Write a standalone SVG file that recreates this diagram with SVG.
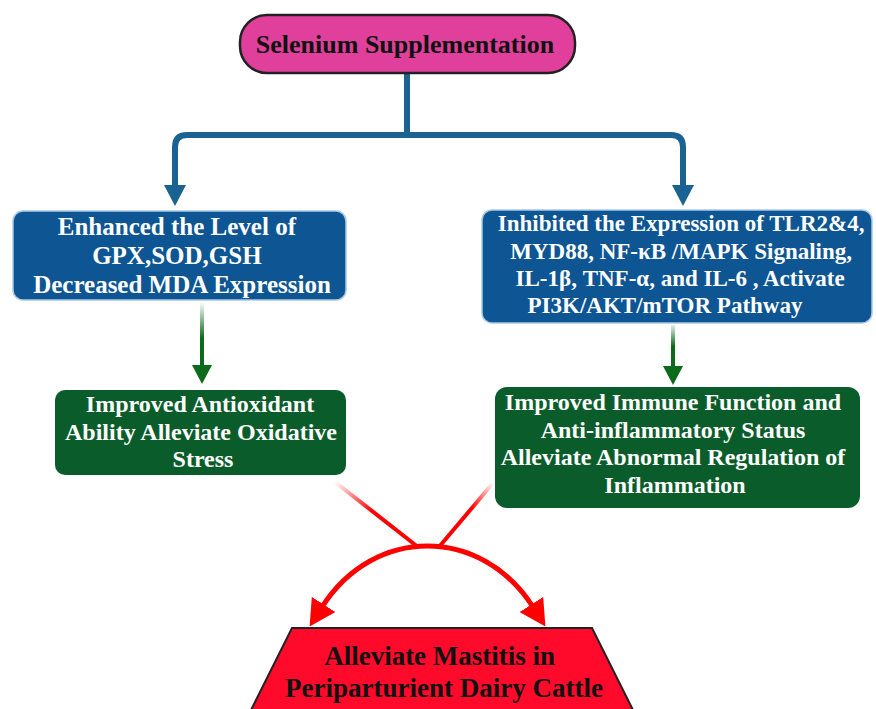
<svg xmlns="http://www.w3.org/2000/svg" width="876" height="709" viewBox="0 0 876 709">
  <style>
    text { font-family: "Liberation Serif", "Times New Roman", serif; font-weight: bold; text-anchor: middle; }
    .w { fill: #ffffff; }
    .k { fill: #111111; }
    .blue { fill: #0e5593; stroke: #a9c9e6; stroke-width: 1.5; }
    .green { fill: #0b5c2b; }
    .conn-blue { fill: none; stroke: #1a6292; stroke-width: 6; }
    .conn-red { fill: none; stroke-width: 4; }
  </style>
  <defs>
    <marker id="ah-blue" markerUnits="userSpaceOnUse" markerWidth="22" markerHeight="22" viewBox="0 0 22 22" refX="1" refY="11" orient="auto">
      <path d="M0,0 L21,11 L0,22 z" fill="#1a6292"/>
    </marker>
    <marker id="ah-green" markerUnits="userSpaceOnUse" markerWidth="20" markerHeight="20" viewBox="0 0 20 20" refX="1" refY="10" orient="auto">
      <path d="M0,0 L19,10 L0,20 z" fill="#0b6a1c"/>
    </marker>
    <marker id="ah-red" markerUnits="userSpaceOnUse" markerWidth="26" markerHeight="28" viewBox="0 0 26 28" refX="3" refY="14" orient="auto-start-reverse">
      <path d="M0,0 L26,14 L0,28 z" fill="#ff0000"/>
    </marker>
    <linearGradient id="g-green-l" gradientUnits="userSpaceOnUse" x1="0" y1="302" x2="0" y2="368">
      <stop offset="0" stop-color="#0b6a1c" stop-opacity="0"/>
      <stop offset="0.55" stop-color="#0b6a1c" stop-opacity="1"/>
    </linearGradient>
    <linearGradient id="g-green-r" gradientUnits="userSpaceOnUse" x1="0" y1="325" x2="0" y2="368">
      <stop offset="0" stop-color="#0b6a1c" stop-opacity="0.1"/>
      <stop offset="0.5" stop-color="#0b6a1c" stop-opacity="1"/>
    </linearGradient>
    <linearGradient id="g-red-l" gradientUnits="userSpaceOnUse" x1="335" y1="482" x2="417" y2="546">
      <stop offset="0" stop-color="#ff0000" stop-opacity="0"/>
      <stop offset="0.45" stop-color="#ff0000" stop-opacity="1"/>
    </linearGradient>
    <linearGradient id="g-red-r" gradientUnits="userSpaceOnUse" x1="493" y1="483" x2="440" y2="546">
      <stop offset="0" stop-color="#ff0000" stop-opacity="0"/>
      <stop offset="0.4" stop-color="#ff0000" stop-opacity="1"/>
    </linearGradient>
  </defs>

  <rect width="876" height="709" fill="#ffffff"/>

  <g id="connectors">
    <path class="conn-blue" d="M407,73 V135"/>
    <path class="conn-blue" d="M407,135 H187 Q175,135 175,147 V186" marker-end="url(#ah-blue)"/>
    <path class="conn-blue" d="M407,135 H671 Q683,135 683,147 V186" marker-end="url(#ah-blue)"/>
    <path d="M202,302 V366" fill="none" stroke="url(#g-green-l)" stroke-width="4" marker-end="url(#ah-green)"/>
    <path d="M673,325 V367" fill="none" stroke="url(#g-green-r)" stroke-width="4" marker-end="url(#ah-green)"/>
    <path class="conn-red" d="M335,482 L418,547" stroke="url(#g-red-l)"/>
    <path class="conn-red" d="M493,483 L439,547" stroke="url(#g-red-r)"/>
    <path d="M322,607 C374,525.7 481,525.7 533,607" fill="none" stroke="#ff0000" stroke-width="5" marker-start="url(#ah-red)" marker-end="url(#ah-red)"/>
  </g>

  <g id="node-selenium">
    <rect x="240" y="15" width="335" height="58" rx="27" fill="#e0409b" stroke="#222222" stroke-width="2.5"/>
    <text class="k" x="405" y="53" font-size="26">Selenium Supplementation</text>
  </g>

  <g id="node-enhanced">
    <rect class="blue" x="13" y="211" width="333" height="89" rx="10"/>
    <text class="w" font-size="25">
      <tspan x="180" y="235">Enhanced the Level of</tspan>
      <tspan x="180" y="264">GPX,SOD,GSH</tspan>
      <tspan x="182" y="293">Decreased MDA Expression</tspan>
    </text>
  </g>

  <g id="node-inhibited">
    <rect class="blue" x="482" y="210" width="390" height="113" rx="10"/>
    <text class="w" font-size="23">
      <tspan x="684" y="231">Inhibited the Expression of TLR2&amp;4,</tspan>
      <tspan x="684" y="259">MYD88, NF-κB /MAPK Signaling,</tspan>
      <tspan x="683" y="286">IL-1β, TNF-α, and IL-6 , Activate</tspan>
      <tspan x="665" y="313">PI3K/AKT/mTOR Pathway</tspan>
    </text>
  </g>

  <g id="node-antioxidant">
    <rect class="green" x="55" y="390" width="291" height="85" rx="10"/>
    <text class="w" font-size="24">
      <tspan x="203" y="412">Improved Antioxidant</tspan>
      <tspan x="204" y="440">Ability Alleviate Oxidative</tspan>
      <tspan x="203" y="467">Stress</tspan>
    </text>
  </g>

  <g id="node-immune">
    <rect class="green" x="495" y="387" width="365" height="121" rx="12"/>
    <text class="w" font-size="24">
      <tspan x="676" y="410">Improved Immune Function and</tspan>
      <tspan x="676" y="438">Anti-inflammatory Status</tspan>
      <tspan x="676" y="465">Alleviate Abnormal Regulation of</tspan>
      <tspan x="675" y="493">Inflammation</tspan>
    </text>
  </g>

  <g id="node-mastitis">
    <polygon points="292,628 592,628 634,712 250,712" fill="#ff0a2a" stroke="#222222" stroke-width="2"/>
    <text class="k" font-size="27">
      <tspan x="443" y="665">Alleviate Mastitis in</tspan>
      <tspan x="444" y="697">Periparturient Dairy Cattle</tspan>
    </text>
  </g>
</svg>
